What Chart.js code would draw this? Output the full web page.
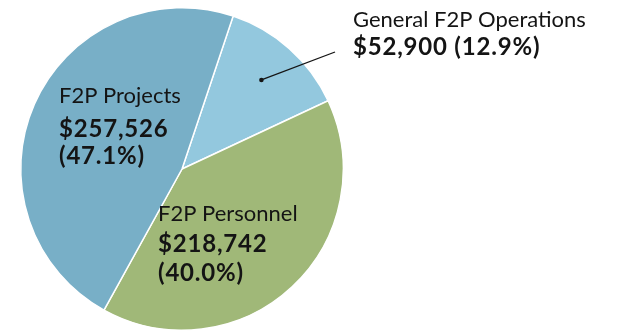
<!DOCTYPE html>
<html>
<head>
<meta charset="utf-8">
<script src="https://cdn.jsdelivr.net/npm/chart.js@4/dist/chart.umd.min.js"></script>
<style>
  html, body { margin: 0; padding: 0; background: #fff; }
  #wrap { position: relative; width: 626px; height: 331px; }
</style>
</head>
<body>
<div id="wrap"><canvas id="budgetPie"></canvas></div>
<script>
// Budgetverdeling F2P
const labels = ['General F2P Operations', 'F2P Personnel', 'F2P Projects'];
const amounts = ['$52,900', '$218,742', '$257,526'];
const shares = [12.9, 40.0, 47.1];
const colors = ['#93c8de', '#a0b878', '#78afc7'];

const FONT_FAMILY = 'Lato, "Noto Sans", sans-serif';
const TEXT = '#141414';
const REG = `22px ${FONT_FAMILY}`;
const BOLD = `bold 24px ${FONT_FAMILY}`;

// Schrijft een regel tekst; vet krijgt wat extra letterafstand
function line(ctx, txt, x, y, bold) {
    ctx.font = bold ? BOLD : REG;
    ctx.letterSpacing = bold ? '0.8px' : '0px';
    ctx.fillText(txt, x, y);
}

// Tekent de labels in/naast de taartpunten
const sliceLabels = {
    id: 'sliceLabels',
    afterDatasetsDraw(chart) {
        const ctx = chart.ctx;
        const arcs = chart.getDatasetMeta(0).data;
        const { x: cx, y: cy, outerRadius: r } = arcs[0].getProps(['x', 'y', 'outerRadius'], true);
        ctx.save();
        ctx.fillStyle = TEXT;
        ctx.textBaseline = 'alphabetic';
        ctx.textAlign = 'left';

        // General Operations: extern label met aanwijslijn
        const ops = arcs[0];
        const mid = (ops.startAngle + ops.endAngle) / 2;
        const dx = cx + Math.cos(mid) * r * 0.74;
        const dy = cy + Math.sin(mid) * r * 0.74;
        ctx.strokeStyle = TEXT;
        ctx.lineWidth = 1.3;
        ctx.beginPath();
        ctx.moveTo(dx, dy);
        ctx.lineTo(cx + 153, cy - 117);
        ctx.stroke();
        ctx.beginPath();
        ctx.arc(dx, dy, 2.3, 0, Math.PI * 2);
        ctx.fill();

        line(ctx, labels[0], cx + 171, cy - 142, false);
        line(ctx, `${amounts[0]} (${shares[0].toFixed(1)}%)`, cx + 171, cy - 114, true);

        // Projects
        line(ctx, labels[2], cx - 123, cy - 66, false);
        line(ctx, amounts[2], cx - 123, cy - 32, true);
        line(ctx, `(${shares[2].toFixed(1)}%)`, cx - 123, cy - 5, true);

        // Personnel
        line(ctx, labels[1], cx - 24, cy + 52, false);
        line(ctx, amounts[1], cx - 24, cy + 83, true);
        line(ctx, `(${shares[1].toFixed(1)}%)`, cx - 24, cy + 112, true);

        ctx.restore();
    }
};

new Chart(document.getElementById('budgetPie').getContext('2d'), {
    type: 'pie',
    data: {
        labels,
        datasets: [{
            data: shares,
            backgroundColor: colors,
            borderColor: '#ffffff',
            borderWidth: 1.5
        }]
    },
    options: {
        responsive: true,
        maintainAspectRatio: false,
        animation: false,
        rotation: 18.5,
        layout: { padding: { left: 20, right: 282, top: 7, bottom: 0 } },
        plugins: {
            legend: { display: false },
            tooltip: { enabled: false }
        }
    },
    plugins: [sliceLabels]
});
</script>
</body>
</html>
